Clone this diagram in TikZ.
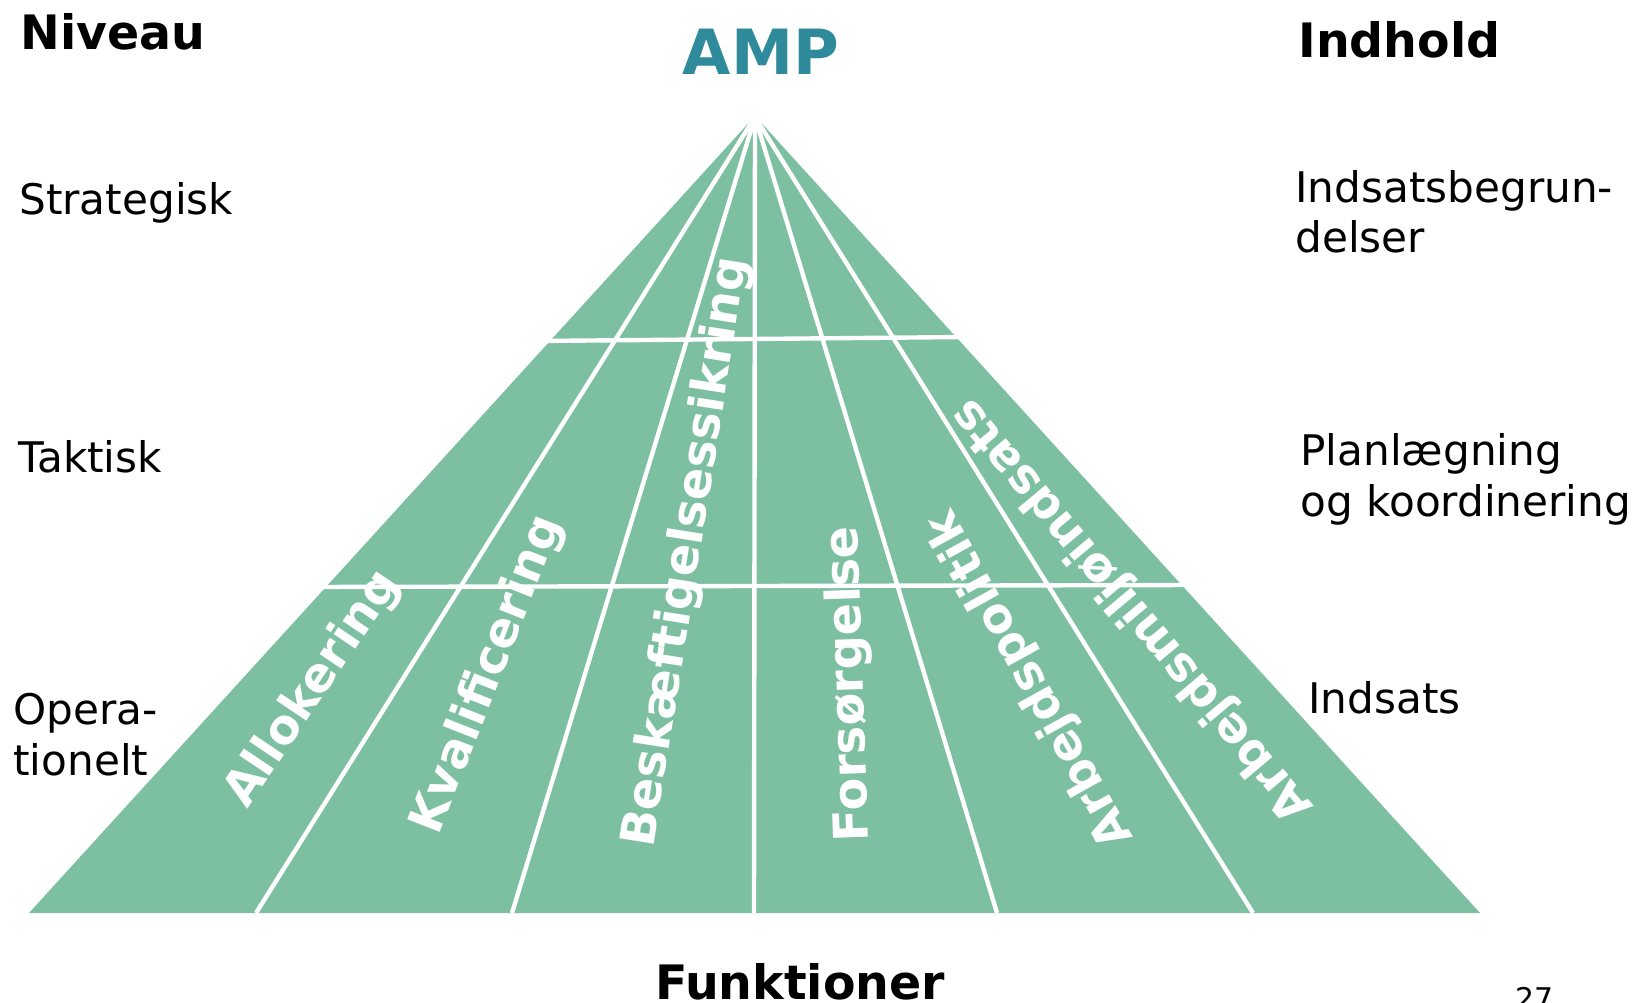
\documentclass[tikz,border=0pt]{standalone}
\usepackage{fontspec}
\setmainfont{DejaVu Sans}
\definecolor{pyr}{RGB}{124,191,161}
\definecolor{ampcol}{RGB}{47,138,155}
\begin{document}
\begin{tikzpicture}[x=0.02cm,y=-0.02cm,
  lvl/.style={anchor=base west, inner sep=0, font=\fontsize{24}{28}\selectfont},
  head/.style={inner sep=0, font=\fontsize{27}{32}\selectfont\bfseries},
  func/.style={inner sep=0, text=white, font=\fontsize{27.2}{32}\selectfont\bfseries},
  sepline/.style={white, line width=2.5pt}]
\useasboundingbox (0,0) rectangle (1637,1003);
% pyramid
\coordinate (apex) at (755,116);
\coordinate (bl) at (29,913);
\coordinate (br) at (1480,913);
\fill[pyr] (apex) -- (bl) -- (br) -- cycle;
% radial separators
\coordinate (tip) at (755,117);
\coordinate (fa) at (256,913);
\coordinate (fb) at (512,913);
\coordinate (fc) at (754,913);
\coordinate (fd) at (997,913);
\coordinate (fe) at (1253,913);
\foreach \n in {fa,fb,fc,fd,fe} \draw[sepline] (tip) -- (\n);
% level separators
\coordinate (h1l) at (538,341);
\coordinate (h1r) at (966,337);
\coordinate (h2l) at (314,587);
\coordinate (h2r) at (1196,585);
\draw[sepline] (h1l) -- (h1r);
\draw[sepline] (h2l) -- (h2r);
% function labels
\node[func, rotate=56] (allo) at (313,689) {Allokering};
\node[func, rotate=68.5] (kval) at (488,675) {Kvalificering};
\node[func, rotate=81] (besk) at (687,552) {Beskæftigelsessikring};
\node[func, rotate=92] (fors) at (850,684) {Forsørgelse};
\node[func, rotate=119] (arbp) at (1031,679) {Arbejdspolitik};
\node[func, rotate=130] (arbm) at (1133,610) {Arbejdsmiljøindsats};
% headings
\node[head, anchor=base west] (niveau) at (20,50) {Niveau};
\node[head, anchor=base west] (indhold) at (1298,58) {Indhold};
\node[head, anchor=base] (funk) at (800,999) {Funktioner};
\node[inner sep=0, anchor=base, text=ampcol, font=\fontsize{35.5}{40}\selectfont\bfseries] (amp) at (761,75) {AMP};
% level labels
\node[lvl] (strat) at (19,215) {Strategisk};
\node[lvl] (takt) at (18,473) {Taktisk};
\node[lvl] (op1) at (13,724) {Opera-};
\node[lvl] (op2) at (13,775) {tionelt};
% content labels
\node[lvl] (ind1) at (1295,203) {Indsatsbegrun-};
\node[lvl] (ind2) at (1295,253) {delser};
\node[lvl] (plan1) at (1300,466) {Planlægning};
\node[lvl] (plan2) at (1300,517) {og koordinering};
\node[lvl] (indsats) at (1308,713) {Indsats};
\node[anchor=base west, inner sep=0, font=\fontsize{17}{20}\selectfont] (pg) at (1515,1009) {27};
\end{tikzpicture}
\end{document}
